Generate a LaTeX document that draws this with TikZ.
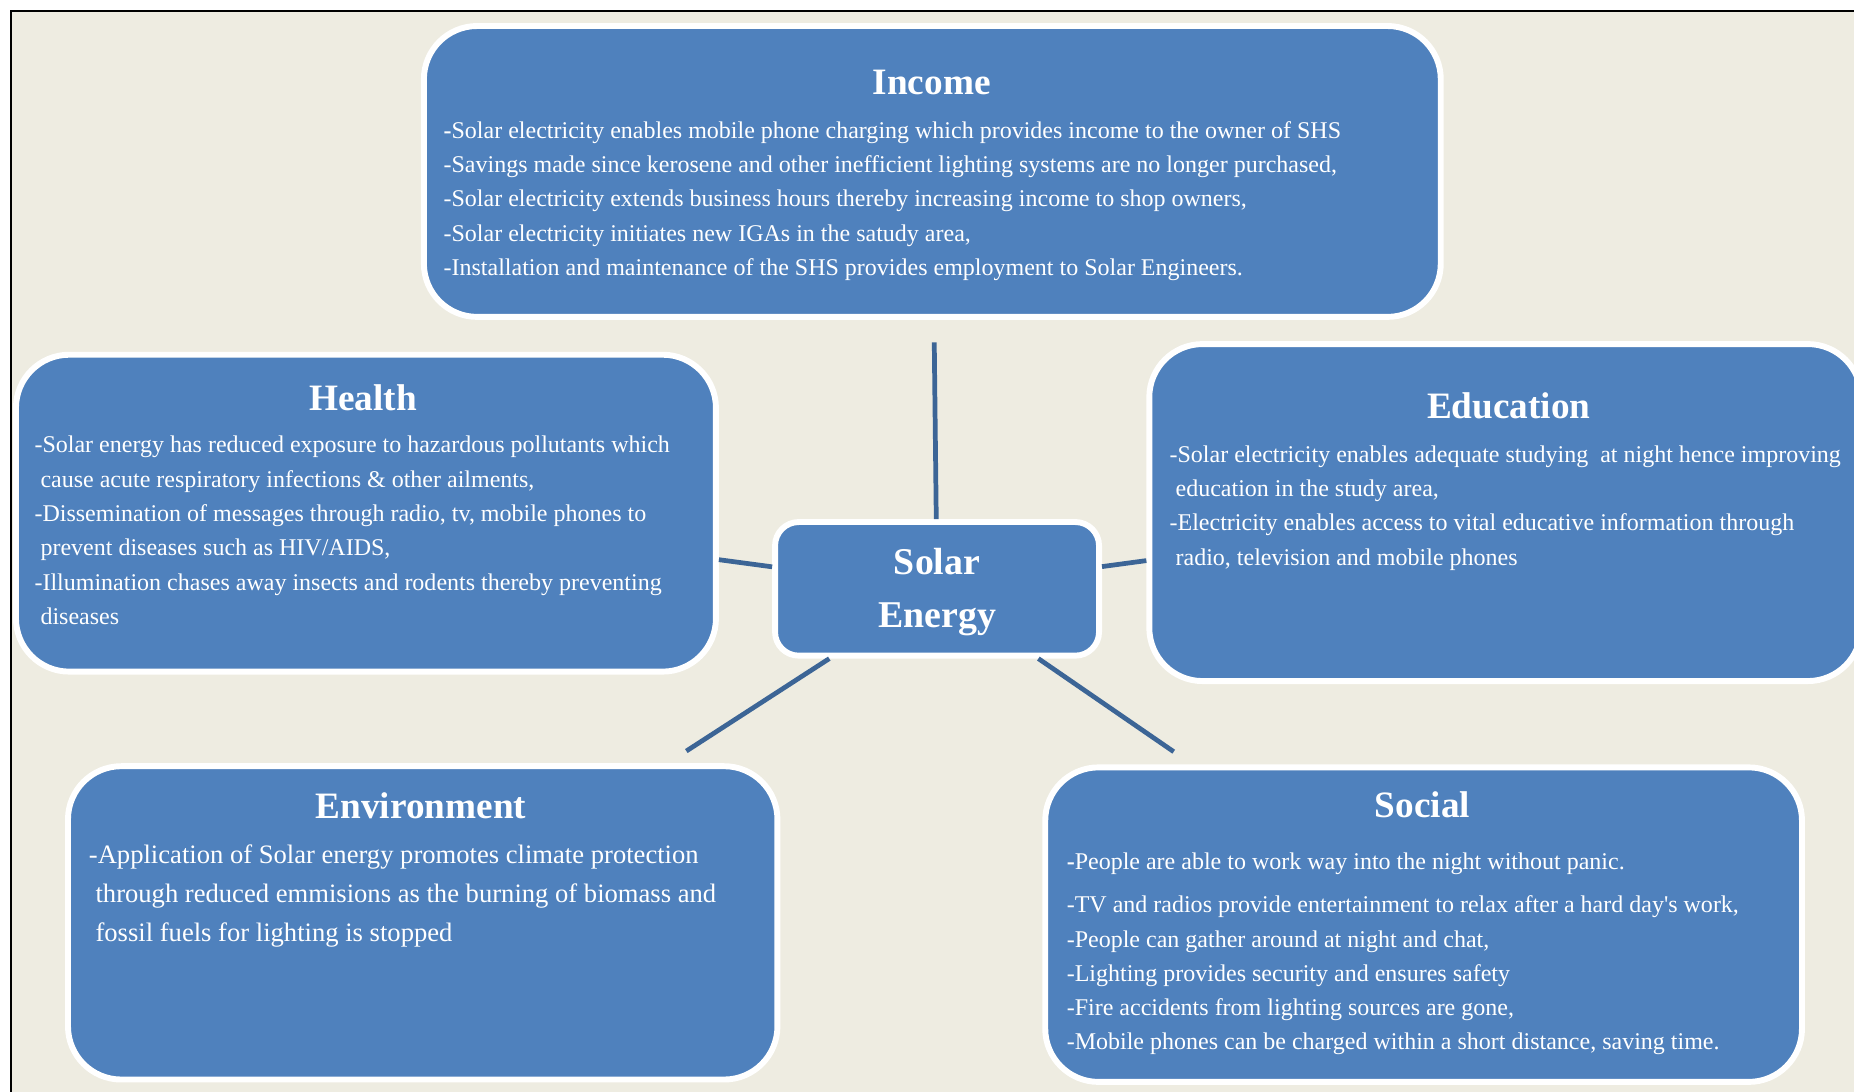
\documentclass[tikz,border=0pt]{standalone}
\usepackage{fontspec}
\setmainfont{Liberation Serif}
\definecolor{bgtan}{HTML}{EEECE1}
\definecolor{boxblue}{HTML}{4F81BD}
\definecolor{linkblue}{HTML}{3C6596}
\tikzset{
	topic/.style={draw=white, line width=5pt, fill=boxblue, rounded corners=45pt, inner sep=0pt},
	heading/.style={text=white, font=\fontsize{31.5}{36}\selectfont\bfseries, anchor=base, inner sep=0pt},
	body/.style={text=white, font=\fontsize{20.3}{29}\selectfont, align=left, anchor=base west, inner sep=0pt},
	link/.style={linkblue, line width=4pt},
}
\begin{document}
\begin{tikzpicture}[x=1pt,y=-1pt]
		\useasboundingbox (0,0) rectangle (1568,923);
		\clip (0,0) rectangle (1568,923);
		\fill [white] (0,0) rectangle (1568,923);
		\fill [bgtan] (9,9) rectangle (1590,940);
		\draw [line width=1.5pt] (9,940) -- (9,9) -- (1590,9);

		\node [topic, minimum width=860pt, minimum height=246pt] (income) at (788.5,145) {};
		\node [topic, minimum width=592pt, minimum height=268pt] (health) at (309.5,434) {};
		\node [topic, minimum width=602pt, minimum height=285pt] (education) at (1273,433.5) {};
		\node [topic, minimum width=600pt, minimum height=265pt] (environment) at (357.5,780.5) {};
		\node [topic, minimum width=640pt, minimum height=266pt] (social) at (1204,782) {};
		\node [topic, rounded corners=20pt, minimum width=274pt, minimum height=113pt, text=white,
			align=center, font=\fontsize{32}{45}\selectfont\bfseries] (solar) at (792.5,498) {\rule{0pt}{28pt}Solar\\Energy};

		\draw [link, shorten >=19pt] (solar) -- (income);
		\draw [link] (solar) -- (health);
		\draw [link] (solar) -- (education);
		\draw [link, shorten >=19pt] (solar) -- (environment);
		\draw [link, shorten >=19pt] (solar) -- (social);

		\node [heading] (incometitle) at (788,80) {Income};
		\node [body] (incometext) at (375,233) {\textbf{-}Solar electricity enables mobile phone charging which provides income to the owner of SHS\\
			-Savings made since kerosene and other inefficient lighting systems are no longer purchased,\\
			-Solar electricity extends business hours thereby increasing income to shop owners,\\
			-Solar electricity initiates new IGAs in the satudy area,\\
			-Installation and maintenance of the SHS provides employment to Solar Engineers.};

		\node [heading] (healthtitle) at (307,347) {Health};
		\node [body] (healthtext) at (29,528) {-Solar energy has reduced exposure to hazardous pollutants which\\
			\ cause acute respiratory infections \& other ailments,\\
			-Dissemination of messages through radio, tv, mobile phones to\\
			\ prevent diseases such as HIV/AIDS,\\
			-Illumination chases away insects and rodents thereby preventing\\
			\ diseases};

		\node [heading] (educationtitle) at (1276,354) {Education};
		\node [body] (educationtext) at (989,478) {-Solar electricity enables adequate studying \ at night hence improving\\
			\ education in the study area,\\
			-Electricity enables access to vital educative information through\\
			\ radio, television and mobile phones};

		\node [heading] (environmenttitle) at (356,692) {Environment};
		\node [body, font=\fontsize{22.5}{33}\selectfont] (environmenttext) at (75,796) {-Application of Solar energy promotes climate protection\\
			\ through reduced emmisions as the burning of biomass and\\
			\ fossil fuels for lighting is stopped};

		\node [heading] (socialtitle) at (1203,691) {Social};
		\node [body] (socialtext) at (902,888) {\textbf{-}People are able to work way into the night without panic.\\[8pt]
			-TV and radios provide entertainment to relax after a hard day\textquotesingle s work,\\
			-People can gather around at night and chat,\\
			-Lighting provides security and ensures safety\\
			-Fire accidents from lighting sources are gone,\\
			-Mobile phones can be charged within a short distance, saving time.};
	\end{tikzpicture}
\end{document}
